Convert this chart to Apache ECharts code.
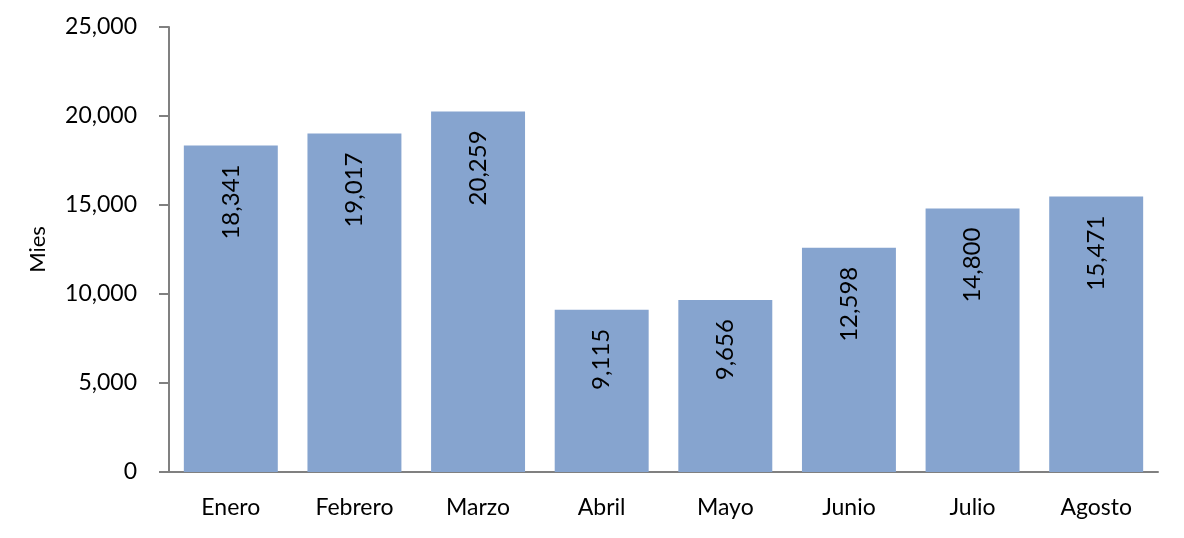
<!DOCTYPE html>
<html>
<head>
<meta charset="utf-8">
<script src="https://cdn.jsdelivr.net/npm/echarts@6/dist/echarts.min.js"></script>
<style>
  html, body { margin: 0; padding: 0; background: #fff; }
  #chart-container { width: 1184px; height: 538px; }
</style>
</head>
<body>
<div id="chart-container"></div>
<script>
var months = ['Enero', 'Febrero', 'Marzo', 'Abril', 'Mayo', 'Junio', 'Julio', 'Agosto'];
var values = [18341, 19017, 20259, 9115, 9656, 12598, 14800, 15471];

var dom = document.getElementById('chart-container');
var myChart = echarts.init(dom);

var fmt = function (v) {
  return Number(v).toLocaleString('en-US');
};

var option = {
  animation: false,
  textStyle: { fontFamily: 'Lato, "Open Sans", sans-serif' },
  grid: { left: 169, right: 26, top: 27, bottom: 66 },
  xAxis: {
    type: 'category',
    data: months,
    axisLine: { lineStyle: { color: '#808080', width: 2 } },
    axisTick: { show: false },
    axisLabel: { color: '#000', fontSize: 23, margin: 24 }
  },
  yAxis: {
    type: 'value',
    min: 0,
    max: 25000,
    interval: 5000,
    name: 'Mies',
    nameLocation: 'middle',
    nameGap: 120,
    nameTextStyle: { color: '#000', fontSize: 22 },
    axisLine: { show: true, lineStyle: { color: '#808080', width: 2 } },
    axisTick: { show: true, length: 10, lineStyle: { color: '#808080', width: 2 } },
    splitLine: { show: false },
    axisLabel: { color: '#000', fontSize: 23, margin: 32, formatter: fmt }
  },
  series: [
    {
      type: 'bar',
      data: values,
      barCategoryGap: '24%',
      itemStyle: { color: '#86A4CF' },
      label: {
        show: true,
        position: 'insideTop',
        rotate: 90,
        align: 'right',
        verticalAlign: 'middle',
        distance: 19,
        color: '#000',
        fontSize: 24,
        formatter: function (p) { return fmt(p.value); }
      }
    }
  ]
};

myChart.setOption(option);
</script>
</body>
</html>
